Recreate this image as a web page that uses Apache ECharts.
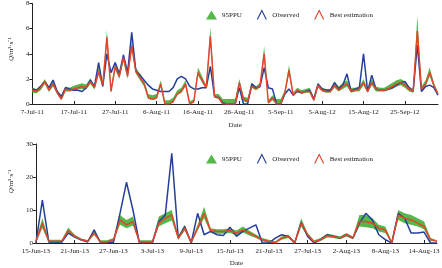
<!DOCTYPE html>
<html>
<head>
<meta charset="utf-8">
<script src="https://cdn.jsdelivr.net/npm/echarts@6/dist/echarts.min.js"></script>
<style>
  html, body { margin: 0; padding: 0; background: #fff; }
  #chart { width: 442px; height: 268px; }
</style>
</head>
<body>
<div id="chart"></div>
<script>
// tick labels (one every 10 points on top, every 6 days below)
const topTicks = ['7-Jul-11', '17-Jul-11', '27-Jul-11', '6-Aug-11', '16-Aug-11', '26-Aug-11', '5-Sep-11', '5-Aug-12', '15-Aug-12', '25-Sep-12']
const bottomTicks = ['15-Jun-13', '21-Jun-13', '27-Jun-13', '3-Jul-13', '9-Jul-13', '15-Jul-13', '21-Jul-13', '27-Jul-13', '2-Aug-13', '8-Aug-13', '14-Aug-13']

// top panel (2011-2012)
const topObserved = [1.2, 1.1, 1.4, 1.8, 1.3, 1.9, 1.0, 0.6, 1.3, 1.2,
  1.1, 1.1, 1.0, 1.3, 1.9, 1.4, 3.3, 1.4, 4.0, 2.5,
  3.3, 2.4, 3.9, 2.5, 5.7, 2.6, 2.3, 1.9, 1.5, 1.2,
  1.1, 1.0, 1.0, 1.0, 1.3, 2.0, 2.2, 2.0, 1.4, 1.2,
  1.2, 1.3, 1.3, 3.0, 0.6, 0.5, 0.1, 0, 0, 0,
  1.3, 0, 0, 1.6, 1.3, 1.4, 2.9, 1.3, 1.2, 0,
  0, 0.8, 1.2, 0.7, 1.0, 0.9, 1.0, 1.1, 0.4, 1.6,
  1.2, 1.1, 1.1, 1.7, 1.2, 1.5, 2.4, 1.0, 1.2, 1.3,
  4.0, 1.0, 2.3, 1.2, 1.1, 1.1, 1.2, 1.3, 1.5, 1.7,
  1.8, 1.3, 1.0, 4.7, 1.0, 1.4, 1.5, 1.3, 0.7]
const topBest = [1.1, 1.0, 1.3, 1.8, 1.1, 1.6, 0.9, 0.4, 1.2, 1.1,
  1.2, 1.3, 1.4, 1.3, 1.8, 1.3, 2.6, 1.5, 5.3, 1.0,
  3.0, 2.2, 3.7, 2.2, 4.6, 2.6, 2.1, 1.6, 0.5, 0.4,
  0.5, 1.6, 0, 0, 0.2, 0.8, 1.0, 1.6, 0, 0.2,
  2.5, 1.9, 1.3, 5.4, 0.6, 0.5, 0, 0, 0, 0,
  1.7, 0.4, 0.2, 1.4, 1.2, 1.5, 4.0, 0.1, 0.5, 0,
  0, 0.9, 2.7, 0.7, 1.1, 0.9, 1.0, 1.0, 0.3, 1.5,
  1.1, 1.0, 1.0, 1.5, 1.1, 1.4, 1.6, 1.0, 1.1, 1.2,
  1.7, 1.0, 1.7, 1.2, 1.1, 1.1, 1.2, 1.4, 1.6, 1.7,
  1.5, 1.2, 1.0, 5.8, 1.2, 1.6, 2.5, 1.5, 0.8]
const topLower = [0.9, 0.85, 1.1, 1.6, 0.95, 1.4, 0.75, 0.3, 1.0, 1.0,
  1.05, 1.15, 1.2, 1.15, 1.6, 1.15, 2.3, 1.3, 4.9, 0.9,
  2.7, 2.0, 3.4, 2.0, 4.3, 2.4, 1.9, 1.4, 0.4, 0.3,
  0.4, 1.4, 0, 0, 0.1, 0.7, 0.9, 1.4, 0, 0.1,
  2.3, 1.7, 1.2, 5.0, 0.5, 0.4, 0, 0, 0, 0,
  1.5, 0.2, 0.1, 1.3, 1.1, 1.3, 3.7, 0, 0.3, 0,
  0, 0.7, 2.4, 0.6, 1.0, 0.8, 0.9, 0.9, 0.2, 1.3,
  1.0, 0.9, 0.9, 1.3, 1.0, 1.2, 1.4, 0.9, 1.0, 1.0,
  1.5, 0.9, 1.5, 1.0, 1.0, 1.0, 1.1, 1.2, 1.4, 1.5,
  1.3, 1.0, 0.9, 5.3, 1.0, 1.4, 2.2, 1.3, 0.7]
const topUpper = [1.3, 1.2, 1.5, 2.0, 1.3, 1.8, 1.1, 0.6, 1.4, 1.3,
  1.45, 1.55, 1.65, 1.55, 2.05, 1.5, 2.9, 1.7, 5.9, 1.3,
  3.3, 2.5, 4.0, 2.5, 5.0, 2.9, 2.4, 1.9, 0.8, 0.7,
  0.8, 1.9, 0.3, 0.3, 0.5, 1.1, 1.3, 1.9, 0.2, 0.4,
  2.9, 2.2, 1.5, 6.1, 0.8, 0.8, 0.4, 0.4, 0.4, 0.4,
  2.0, 0.6, 0.5, 1.7, 1.4, 1.7, 4.6, 0.3, 0.7, 0.4,
  0.4, 1.1, 3.1, 0.9, 1.3, 1.1, 1.2, 1.3, 0.5, 1.7,
  1.3, 1.2, 1.2, 1.8, 1.4, 1.7, 1.9, 1.3, 1.3, 1.4,
  2.0, 1.2, 2.0, 1.4, 1.3, 1.3, 1.5, 1.7, 1.9, 2.0,
  1.8, 1.4, 1.2, 7.0, 1.4, 1.9, 2.9, 1.7, 0.9]

// bottom panel (2013, daily)
const bottomObserved = [0, 13.0, 0.3, 0.3, 0.3, 3.0, 1.8, 1.0, 0.3, 4.0,
  0, 0, 0.3, 9.0, 18.4, 10.0, 0, 0, 0, 6.5,
  8.5, 27.2, 1.5, 5.0, 0, 9.0, 2.5, 3.5, 2.5, 2.3,
  4.8, 2.0, 3.5, 4.5, 5.5, 0, 0, 1.5, 2.5, 2.0,
  0, 6.2, 2.0, 0, 1.0, 2.5, 2.0, 1.5, 2.5, 1.5,
  6.0, 9.0, 7.0, 2.5, 1.0, 0, 9.0, 7.5, 3.0, 3.0,
  3.3, 0, 0]
const bottomBest = [0.5, 6.0, 0.5, 0.5, 0.5, 3.8, 2.0, 1.0, 0.5, 3.0,
  0.3, 0.3, 1.0, 7.0, 5.5, 6.5, 0.3, 0.3, 0.3, 6.0,
  7.5, 8.5, 1.5, 4.5, 0.2, 4.5, 9.0, 3.8, 3.5, 3.5,
  3.8, 3.0, 4.0, 3.0, 2.0, 1.0, 0.5, 0, 1.5, 2.0,
  0, 6.0, 2.5, 0.3, 1.0, 2.2, 2.0, 1.5, 2.5, 1.5,
  6.5, 6.5, 6.0, 4.5, 4.0, 0, 8.5, 7.5, 7.0, 6.0,
  5.0, 1.0, 0.5]
const bottomLower = [0, 4.5, 0, 0, 0, 3.0, 1.6, 0.7, 0.2, 2.4,
  0, 0, 0.5, 5.5, 4.5, 5.3, 0, 0, 0, 5.0,
  6.0, 6.8, 1.0, 3.7, 0, 3.8, 7.5, 3.0, 2.8, 2.8,
  3.0, 2.3, 3.2, 2.3, 1.5, 0.5, 0, 0, 1.0, 1.5,
  0, 5.0, 2.0, 0, 0.6, 1.7, 1.5, 1.1, 2.0, 1.1,
  5.0, 4.8, 4.5, 3.5, 3.0, 0, 7.0, 6.0, 5.5, 5.0,
  4.2, 0.5, 0.2]
const bottomUpper = [1.0, 7.5, 1.0, 1.0, 1.0, 4.7, 2.5, 1.4, 0.9, 3.6,
  0.8, 0.8, 1.5, 8.5, 7.0, 8.0, 0.8, 0.8, 0.8, 8.0,
  9.0, 10.0, 2.2, 5.5, 0.6, 5.5, 11.0, 4.5, 4.2, 4.2,
  4.5, 3.8, 5.0, 3.7, 2.6, 1.5, 1.0, 0.5, 2.0, 2.6,
  0.5, 7.5, 3.0, 0.8, 1.5, 2.8, 2.5, 2.0, 3.0, 2.0,
  8.5, 8.5, 7.5, 5.5, 5.0, 0.5, 10.0, 9.0, 8.5, 7.5,
  6.5, 1.5, 0.8]

const GREEN = '#55b84a'
const BLUE = '#253f9a'
const RED = '#e2452c'
const FONT = 'Liberation Serif'

const topCats = topObserved.map((v, i) => String(i))
const bottomCats = bottomObserved.map((v, i) => String(i))

const chevron = 'path://M0,10L5,0L10,10'

const legendFor = (top) => ({
  top: top,
  left: 201,
  itemWidth: 11,
  itemHeight: 9,
  itemGap: 13,
  textStyle: {fontFamily: FONT, fontSize: 7, color: '#222'},
  data: [
    {name: '95PPU', icon: 'triangle', itemStyle: {color: GREEN}},
    {name: 'Observed', icon: chevron, itemStyle: {color: 'none', borderColor: BLUE, borderWidth: 1.1}},
    {name: 'Best estimation', icon: chevron, itemStyle: {color: 'none', borderColor: RED, borderWidth: 1.1}}
  ]
})

const xAxisFor = (idx, cats, ticks, step) => ({
  type: 'category',
  gridIndex: idx,
  data: cats,
  boundaryGap: false,
  name: 'Date',
  nameLocation: 'middle',
  nameGap: idx === 0 ? 18 : 17,
  nameTextStyle: {fontFamily: FONT, fontSize: 7, color: '#222'},
  axisLine: {lineStyle: {color: '#222', width: 1}},
  axisTick: {inside: true, length: 3, interval: step - 1, lineStyle: {color: '#222'}},
  axisLabel: {
    interval: step - 1,
    margin: 5,
    fontFamily: FONT,
    fontSize: 7,
    color: '#222',
    formatter: (v, i) => ticks[i / step] || ''
  },
  splitLine: {show: false}
})

const yAxisFor = (idx, max, interval, shift) => ({
  type: 'value',
  gridIndex: idx,
  min: 0,
  max: max,
  interval: interval,
  name: '{i|Q}/m³·s⁻¹',
  nameLocation: 'middle',
  nameGap: 13,
  nameTextStyle: {
    fontFamily: FONT, fontSize: 7, color: '#222',
    padding: [0, 0, 0, shift],
    rich: {i: {fontFamily: FONT, fontSize: 7, fontStyle: 'italic', color: '#222'}}
  },
  axisLine: {show: true, lineStyle: {color: '#222', width: 1}},
  axisTick: {show: true, length: 3, lineStyle: {color: '#222'}},
  axisLabel: {margin: 3, fontFamily: FONT, fontSize: 7, color: '#222'},
  splitLine: {show: false}
})

const seriesFor = (idx, obs, best, lo, hi) => [
  {
    name: 'ppuBase' + idx, type: 'line', xAxisIndex: idx, yAxisIndex: idx,
    data: lo, stack: 'ppu' + idx, symbol: 'none',
    lineStyle: {width: 0, opacity: 0}, silent: true
  },
  {
    name: '95PPU', type: 'line', xAxisIndex: idx, yAxisIndex: idx,
    data: hi.map((v, i) => +(v - lo[i]).toFixed(2)), stack: 'ppu' + idx, symbol: 'none',
    color: GREEN, lineStyle: {width: 0, opacity: 0},
    areaStyle: {color: GREEN, opacity: 1}
  },
  {
    name: 'Observed', type: 'line', xAxisIndex: idx, yAxisIndex: idx,
    data: obs, symbol: 'none', color: BLUE,
    lineStyle: {color: BLUE, width: 1.5}
  },
  {
    name: 'Best estimation', type: 'line', xAxisIndex: idx, yAxisIndex: idx,
    data: best, symbol: 'none', color: RED,
    lineStyle: {color: RED, width: 1.5}
  }
]

const chart = echarts.init(document.getElementById('chart'), null, {renderer: 'canvas'})
chart.setOption({
  animation: false,
  backgroundColor: '#fff',
  legend: [legendFor(3), legendFor(147)],
  grid: [
    {left: 22, right: 4, top: 0, height: 104},
    {left: 22, right: 4, top: 144, height: 105}
  ],
  xAxis: [
    xAxisFor(0, topCats, topTicks, 10),
    xAxisFor(1, bottomCats, bottomTicks, 6)
  ],
  yAxis: [
    yAxisFor(0, 8, 2, 9),
    yAxisFor(1, 30, 10, 24)
  ],
  series: [
    ...seriesFor(0, topObserved, topBest, topLower, topUpper),
    ...seriesFor(1, bottomObserved, bottomBest, bottomLower, bottomUpper)
  ]
})
</script>
</body>
</html>
